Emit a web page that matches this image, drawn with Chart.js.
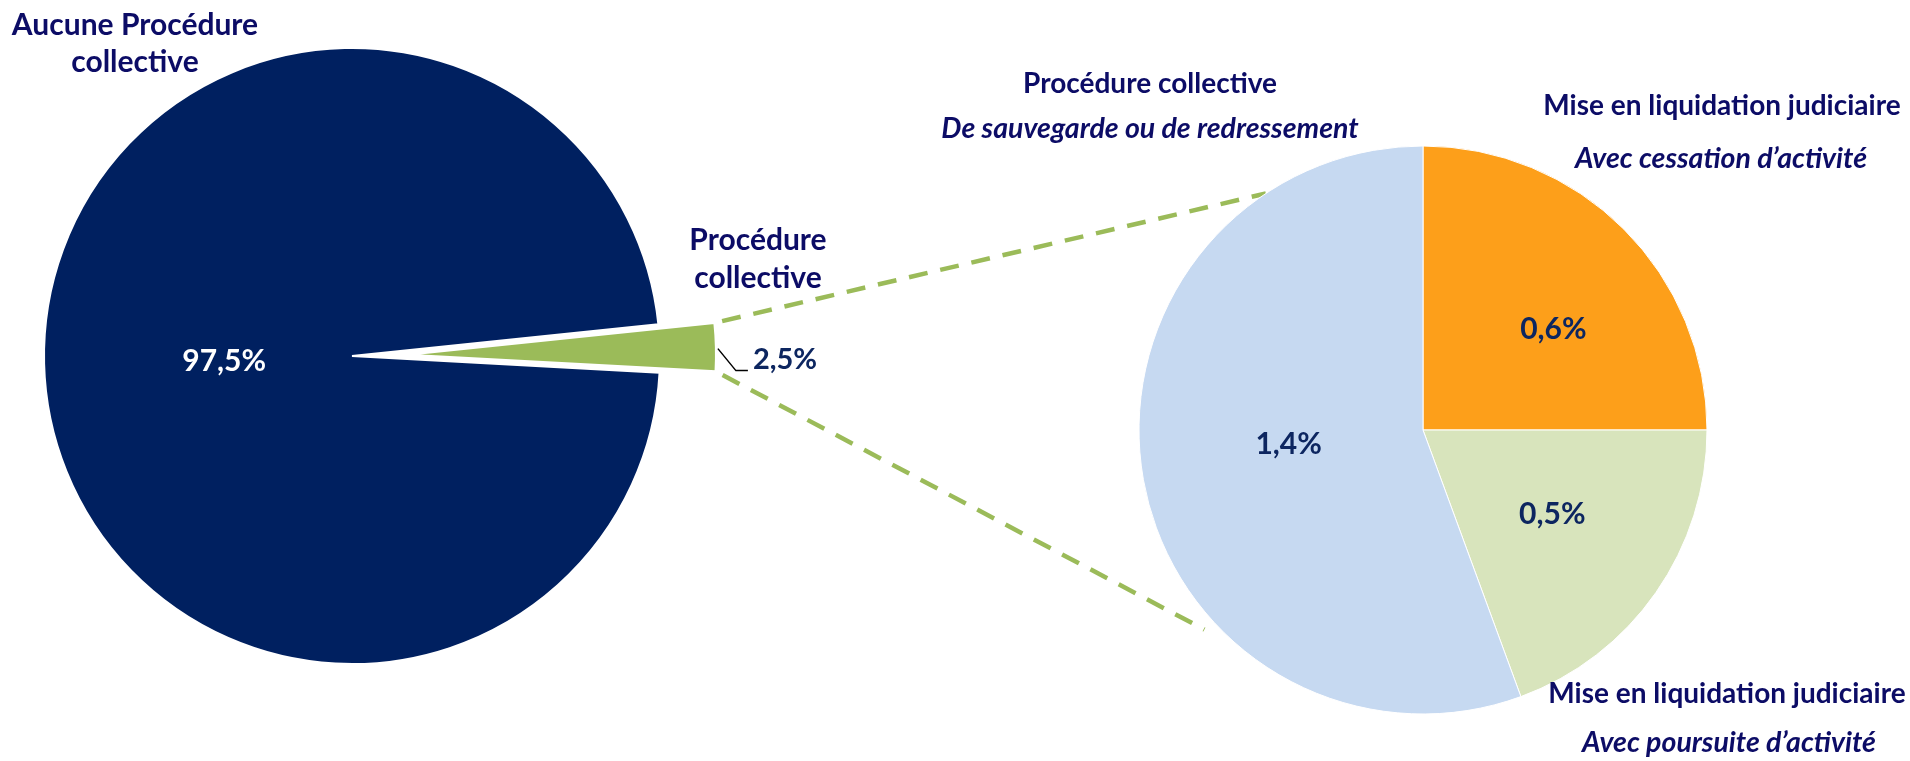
<!DOCTYPE html>
<html lang="fr">
<head>
<meta charset="utf-8">
<title>Procédures collectives</title>
<script src="https://cdn.jsdelivr.net/npm/chart.js@4.4.1/dist/chart.umd.min.js"></script>
<style>
html, body { margin: 0; padding: 0; background: #fff; }
#wrap { position: relative; width: 1910px; height: 761px; overflow: hidden; }
#wrap canvas { position: absolute; left: 0; top: 0; }
.txt { position: absolute; white-space: nowrap; font-family: Lato, "Liberation Sans", sans-serif;
       font-weight: 700; font-size: 28px; line-height: 1; color: #0c0c66; }
.txt.it { font-style: italic; }
</style>
</head>
<body>
<div id="wrap">
  <canvas id="pie1" width="1910" height="761"></canvas>
  <canvas id="pie2" width="1910" height="761"></canvas>
  <canvas id="pie3" width="1910" height="761"></canvas>
</div>
<script>
// données
var mainLabels = ["Aucune Procédure collective", "Procédure collective"];
var mainValues = [97.5, 2.5];
var mainColors = ["#002060", "#9bbb59"];

var detailLabels = [
  "Mise en liquidation judiciaire - Avec cessation d’activité",
  "Mise en liquidation judiciaire - Avec poursuite d’activité",
  "Procédure collective - De sauvegarde ou de redressement"
];
var detailValues = [0.625, 0.485, 1.39];
var detailColors = ["#fd9f1a", "#d8e4bc", "#c6d9f1"];

var W = 1910, H = 761;
var wrap = document.getElementById("wrap");

function pct(v) { return (Math.round(v * 10) / 10).toFixed(1).replace(".", ",") + "%"; }

function pieOptions(cx, cy, radius, rotation) {
  return {
    responsive: false,
    animation: false,
    events: [],
    rotation: rotation,
    radius: radius,
    layout: { padding: { left: cx - 300, right: W - cx - 300, top: cy - 300, bottom: H - cy - 300 } },
    plugins: { legend: { display: false }, tooltip: { enabled: false } }
  };
}

function addText(str, x, y, opts) {
  opts = opts || {};
  var d = document.createElement("div");
  d.className = "txt" + (opts.italic ? " it" : "");
  d.textContent = str;
  var fs = opts.size || 28;
  d.style.fontSize = fs + "px";
  if (opts.color) d.style.color = opts.color;
  if (opts.center) {
    // centré sur le point
    d.style.left = x + "px";
    d.style.top = y + "px";
    d.style.transform = "translate(-50%,-50%)";
  } else {
    // y = ligne de base
    d.style.top = (y - fs * 0.887) + "px";
    d.style.left = x + "px";
    if (opts.align !== "left") d.style.transform = "translateX(-50%)";
  }
  wrap.appendChild(d);
}

// camembert principal
var chart1 = new Chart(document.getElementById("pie1"), {
  type: "pie",
  data: {
    labels: mainLabels,
    datasets: [{
      data: mainValues,
      backgroundColor: [mainColors[0], "rgba(0,0,0,0)"],
      borderColor: ["#ffffff", "rgba(0,0,0,0)"],
      borderWidth: 2,
      clip: false
    }]
  },
  options: pieOptions(352, 356, 308, 93.1)
});

// part "Procédure collective" détachée
var a1 = chart1.getDatasetMeta(0).data[1];
var explode = 56;
var midG = (a1.startAngle + a1.endAngle) / 2;
var chart2 = new Chart(document.getElementById("pie2"), {
  type: "pie",
  data: {
    labels: mainLabels,
    datasets: [{
      data: mainValues,
      backgroundColor: ["rgba(0,0,0,0)", mainColors[1]],
      borderColor: ["rgba(0,0,0,0)", "#ffffff"],
      borderWidth: 2,
      clip: false
    }]
  },
  options: pieOptions(a1.x + Math.cos(midG) * explode, a1.y + Math.sin(midG) * explode, 308, 93.1)
});

var leaderEnd = null;
var connector = {
  id: "connector",
  beforeDatasetsDraw: function (chart) {
    var g = chart2.getDatasetMeta(0).data[1];
    var d = chart.getDatasetMeta(0).data[0];
    var ctx = chart.ctx;
    ctx.save();
    ctx.strokeStyle = mainColors[1];
    ctx.lineWidth = 4.5;
    ctx.setLineDash([19, 13]);
    ctx.lineDashOffset = 24;
    var ends = [[g.startAngle, -123.6, 0], [g.endAngle, 137.6, 12]];
    ends.forEach(function (e) {
      var t = e[1] * Math.PI / 180;
      ctx.beginPath();
      ctx.moveTo(g.x + Math.cos(e[0]) * g.outerRadius, g.y + Math.sin(e[0]) * g.outerRadius);
      ctx.lineTo(d.x + Math.cos(t) * (d.outerRadius + e[2]), d.y + Math.sin(t) * (d.outerRadius + e[2]));
      ctx.stroke();
    });
    // trait de rappel vers l'étiquette 2,5%
    var m = (g.startAngle + g.endAngle) / 2;
    var ox = g.x + Math.cos(m) * g.outerRadius, oy = g.y + Math.sin(m) * g.outerRadius;
    ctx.setLineDash([]);
    ctx.strokeStyle = "#000000";
    ctx.lineWidth = 1.5;
    ctx.beginPath();
    ctx.moveTo(ox + 2, oy + 1.5);
    ctx.lineTo(ox + 20, oy + 23.5);
    ctx.lineTo(ox + 32, oy + 23.5);
    ctx.stroke();
    ctx.restore();
    leaderEnd = { x: ox + 32, y: oy + 23.5 };
  }
};

// détail des procédures collectives
var chart3 = new Chart(document.getElementById("pie3"), {
  type: "pie",
  data: {
    labels: detailLabels,
    datasets: [{
      data: detailValues,
      backgroundColor: detailColors,
      borderColor: "#ffffff",
      borderWidth: 1,
      clip: false
    }]
  },
  options: pieOptions(1423, 430, 284, 0),
  plugins: [connector]
});

// étiquettes de valeurs
function sliceLabel(chart, i, value, factor, shiftDeg, color) {
  var a = chart.getDatasetMeta(0).data[i];
  var m = (a.startAngle + a.endAngle) / 2 + shiftDeg * Math.PI / 180;
  var r = a.outerRadius * factor;
  addText(pct(value), a.x + Math.cos(m) * r, a.y + Math.sin(m) * r, { center: true, color: color, size: 30 });
}
sliceLabel(chart1, 0, mainValues[0], 0.415, 0, "#ffffff");
sliceLabel(chart3, 0, detailValues[0], 0.585, 6.7, "#0d2660");
sliceLabel(chart3, 1, detailValues[1], 0.54, -2.4, "#0d2660");
sliceLabel(chart3, 2, detailValues[2], 0.475, 5, "#0d2660");
addText(pct(mainValues[1]), leaderEnd.x + 5, leaderEnd.y - 2, { align: "left", color: "#0d2660", size: 29 });

// titres des parts
addText("Aucune Procédure", 135, 35, { size: 30 });
addText("collective", 135, 72, { size: 30 });
addText("Procédure", 758, 250, { size: 30 });
addText("collective", 758, 288, { size: 30 });
addText("Procédure collective", 1150, 93);
addText("De sauvegarde ou de redressement", 1150, 138, { italic: true, size: 28.5 });
addText("Mise en liquidation judiciaire", 1722, 115);
addText("Avec cessation d’activité", 1721, 168, { italic: true, size: 28.5 });
addText("Mise en liquidation judiciaire", 1727, 703);
addText("Avec poursuite d’activité", 1729, 752, { italic: true, size: 28.5 });
</script>
</body>
</html>
